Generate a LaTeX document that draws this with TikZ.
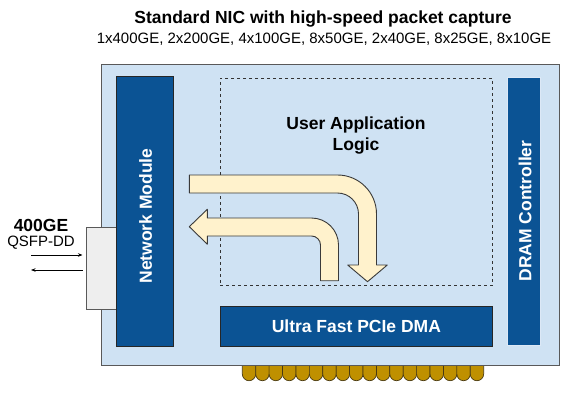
\documentclass[tikz,border=0pt]{standalone}
\usepackage{fontspec}
\setmainfont{Liberation Sans}
\usetikzlibrary{arrows.meta}
\definecolor{boardfill}{HTML}{CFE2F3}
\definecolor{boardline}{HTML}{595959}
\definecolor{modblue}{HTML}{0B5394}
\definecolor{arrowfill}{HTML}{FFF2CC}
\definecolor{arrowline}{HTML}{3A3A3A}
\definecolor{gold}{HTML}{BF9000}
\definecolor{goldline}{HTML}{4A3A10}
\definecolor{qsfpfill}{HTML}{EEEEEE}
\definecolor{dramline}{HTML}{DCE8F6}
\tikzset{
  box/.style={rectangle, inner sep=0pt, outer sep=0pt},
  module/.style={box, fill=modblue, draw=#1, line width=0.9pt, text=white,
     font=\fontsize{17.5}{21}\selectfont\bfseries},
  flow/.style={fill=arrowfill, draw=arrowline, line width=0.9pt, line join=round},
  finger/.style={fill=gold, draw=goldline, line width=0.7pt},
  thinarrow/.style={-{Stealth[length=4.5pt,width=3.5pt]}, line width=0.7pt, black},
  bold/.style={font=\fontsize{17.5}{21}\selectfont\bfseries},
  reg/.style={font=\fontsize{15}{18}\selectfont}
}
\begin{document}
\begin{tikzpicture}[x=1pt,y=1pt]
\useasboundingbox (0,0) rectangle (567,400);
% titles
\node[bold, inner sep=0] (title) at (323,381) {Standard NIC with high-speed packet capture};
\node[reg, inner sep=0] (subtitle) at (324,361) {1x400GE, 2x200GE, 4x100GE, 8x50GE, 2x40GE, 8x25GE, 8x10GE};
% gold fingers
\foreach \i in {0,...,17}{
  \pgfmathsetmacro{\xo}{242.3+13.41*\i}
  \draw[finger] (\xo,37) -- (\xo,26) arc[start angle=180,end angle=360,radius=6.705] -- (\xo+13.41,37);
}
% board
\node[box, fill=boardfill, draw=boardline, line width=1pt, minimum width=458.5pt, minimum height=300.7pt] (board) at (330.25,185.35) {};
% QSFP cage
\node[box, fill=qsfpfill, draw=boardline, line width=0.9pt, minimum width=32pt, minimum height=81.3pt] (qsfp) at (102,131.65) {};
% network module
\node[module=black!85, minimum width=57.2pt, minimum height=269.3pt] (netmod) at (144.9,188.65) {};
\node[bold, text=white, rotate=90, inner sep=0] (netlbl) at (145.5,184) {Network Module};
% DRAM controller
\node[module=dramline, minimum width=33.8pt, minimum height=268.1pt] (dram) at (523.9,188.25) {};
\node[bold, text=white, rotate=90, inner sep=0] (dramlbl) at (525,189) {DRAM Controller};
% user application logic
\node[box, draw=black!80, dashed, line width=0.8pt, minimum width=272.7pt, minimum height=206.7pt] (user) at (356.35,218.35) {};
\node[bold, align=center, inner sep=0] (userlbl) at (356,264.5) {User Application\\Logic};
% PCIe DMA
\node[module=black!85, minimum width=272.7pt, minimum height=39.3pt] (pcie) at (356.35,73.65) {Ultra Fast PCIe DMA};
% flow arrows
\draw[flow] (189.3,225) -- (337.5,225) arc[start angle=90,end angle=0,radius=39]
  -- (376.5,135) -- (387.3,135) -- (367.5,118.3) -- (347.7,135) -- (358.5,135)
  -- (358.5,186) arc[start angle=0,end angle=90,radius=21] -- (189.3,207) -- cycle;
\draw[flow] (189.3,173.3) -- (207.3,190.7) -- (207.3,182) -- (311.5,182)
  arc[start angle=90,end angle=0,radius=27] -- (338.5,119.3) -- (320.5,119.3)
  -- (320.5,155) arc[start angle=0,end angle=90,radius=9] -- (207.3,164)
  -- (207.3,155.8) -- cycle;
% port labels
\node[bold, inner sep=0] (gelbl) at (41,175) {400GE};
\node[reg, inner sep=0] (qsfplbl) at (41,157) {QSFP-DD};
\coordinate (inA) at (31,145);
\coordinate (inB) at (82.5,145);
\coordinate (outA) at (82.5,130);
\coordinate (outB) at (31,130);
\draw[thinarrow] (inA) -- (inB);
\draw[thinarrow] (outA) -- (outB);
\end{tikzpicture}
\end{document}
